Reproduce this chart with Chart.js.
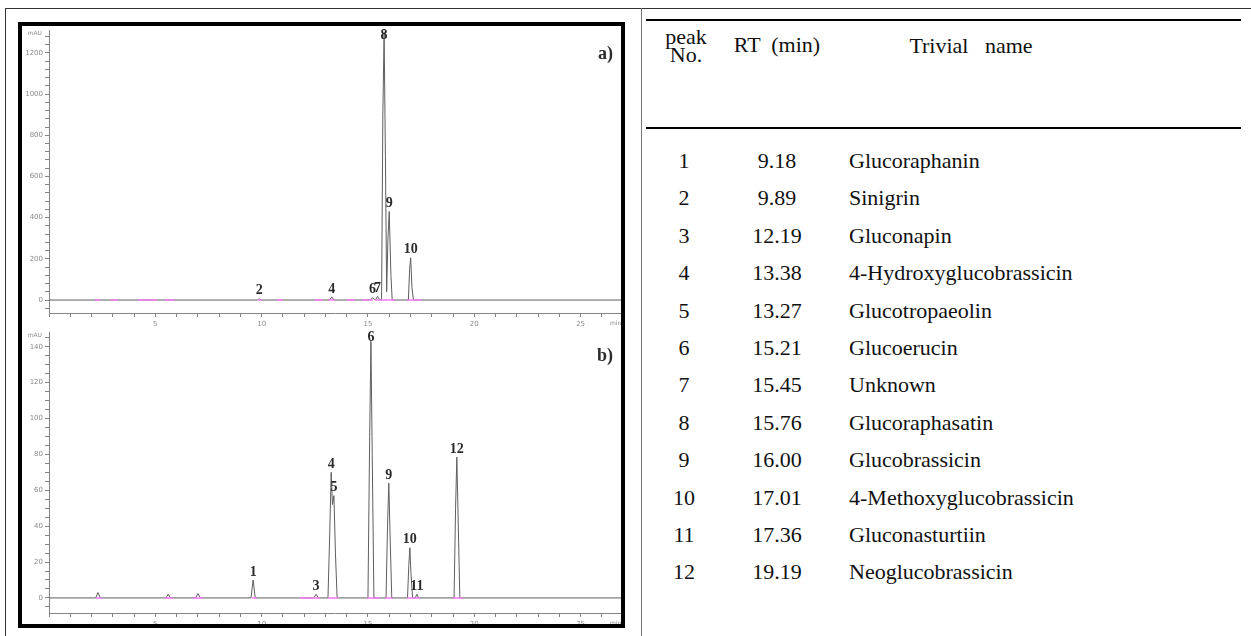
<!DOCTYPE html>
<html>
<head>
<meta charset="utf-8">
<script src="https://cdn.jsdelivr.net/npm/chart.js@4/dist/chart.umd.min.js"></script>
<style>
    html, body { margin: 0; padding: 0; background: #fff; }
    body { width: 1251px; height: 636px; position: relative; overflow: hidden; font-family: "Liberation Serif", "Times New Roman", serif; color: #111; }
    .line { position: absolute; }
    .frame { position: absolute; left: 18px; top: 22px; width: 607px; height: 606px; border: 4px solid #000; box-sizing: border-box; }
    .chart-box { position: absolute; left: 0; width: 599px; }
    .chart-box canvas { filter: blur(0.4px); }
    .cell { position: absolute; font-size: 22px; line-height: 30px; height: 30px; white-space: pre; }
    .cell.center { transform: translateX(-50%); }
</style>
</head>
<body>
<div class="line" style="left:5px; top:8px; width:1246px; height:1px; background:#333;"></div>
<div class="line" style="left:5px; top:8px; width:1px; height:628px; background:#333;"></div>
<div class="line" style="left:641px; top:8px; width:1px; height:628px; background:#777;"></div>

<div class="frame">
    <div class="chart-box" style="top:0; height:304px;"><canvas id="chromA" width="599" height="304"></canvas></div>
    <div class="chart-box" style="top:304px; height:294px;"><canvas id="chromB" width="599" height="294"></canvas></div>
</div>

<div id="peakTable"></div>

<script>
// chromatogram a) - trace points (min, mAU)
const traceATimes = [0, 9.80, 9.89, 9.98, 13.20, 13.30, 13.40, 15.13, 15.21, 15.29, 15.37, 15.45, 15.53, 15.64, 15.70, 15.76, 15.82, 15.88, 15.94, 16.00, 16.08, 16.14, 16.90, 16.96, 17.01, 17.07, 17.14, 26.9];
const traceAValues = [0, 0, 6, 0, 0, 15, 0, 0, 12, 3, 3, 18, 4, 0, 900, 1300, 700, 40, 300, 430, 120, 0, 0, 150, 205, 60, 0, 0];
const peakLabelsA = ['2', '4', '6', '7', '8', '9', '10'];
const peakTimesA = [9.89, 13.30, 15.21, 15.45, 15.76, 16.00, 17.01];
const marksA = [[2.16, 2.40], [2.87, 3.24], [4.18, 5.08], [5.45, 5.92], [9.83, 10.01], [10.72, 11.0], [12.5, 12.88], [13.12, 13.45], [14.01, 14.39], [14.72, 15.23], [15.33, 16.27], [16.83, 17.53]];

// chromatogram b)
const traceBTimes = [0, 2.20, 2.30, 2.42, 5.50, 5.60, 5.72, 6.90, 7.00, 7.12, 9.50, 9.60, 9.70, 12.45, 12.56, 12.67, 13.12, 13.20, 13.27, 13.33, 13.40, 13.47, 13.55, 15.00, 15.08, 15.14, 15.20, 15.28, 15.85, 15.92, 15.98, 16.04, 16.12, 16.86, 16.92, 16.97, 17.02, 17.10, 17.22, 17.30, 17.38, 19.05, 19.12, 19.18, 19.24, 19.32, 26.9];
const traceBValues = [0, 0, 3, 0, 0, 2, 0, 0, 2.5, 0, 0, 10, 0, 0, 2, 0, 0, 35, 70, 52, 57, 25, 0, 0, 90, 143, 80, 0, 0, 40, 64, 35, 0, 0, 18, 28, 14, 0, 0, 2, 0, 0, 50, 78.5, 45, 0, 0];
const peakLabelsB = ['1', '3', '4', '5', '6', '9', '10', '11', '12'];
const peakTimesB = [9.60, 12.56, 13.27, 13.40, 15.14, 15.98, 16.97, 17.30, 19.18];
const marksB = [[2.2, 2.5], [5.45, 5.83], [6.77, 7.24], [9.54, 9.78], [11.8, 12.74], [13.12, 13.59], [14.95, 15.56], [15.8, 16.17], [16.83, 17.44], [18.99, 19.46]];

// peak table
const peakNumbers = ['1', '2', '3', '4', '5', '6', '7', '8', '9', '10', '11', '12'];
const retentionTimes = ['9.18', '9.89', '12.19', '13.38', '13.27', '15.21', '15.45', '15.76', '16.00', '17.01', '17.36', '19.19'];
const trivialNames = ['Glucoraphanin', 'Sinigrin', 'Gluconapin', '4-Hydroxyglucobrassicin', 'Glucotropaeolin', 'Glucoerucin', 'Unknown', 'Glucoraphasatin', 'Glucobrassicin', '4-Methoxyglucobrassicin', 'Gluconasturtiin', 'Neoglucobrassicin'];

const TIME_MAX = 26.9;

function toPoints(times, values) {
    return times.map(function (t, i) { return { x: t, y: values[i] }; });
}

function markPoints(marks) {
    const points = [];
    marks.forEach(function (m) {
        points.push({ x: m[0], y: 0 }, { x: m[1], y: 0 }, { x: m[1], y: null });
    });
    return points;
}

function fixedScale(width, height) {
    return function (scale) {
        if (width !== null) scale.width = width;
        if (height !== null) scale.height = height;
        scale.paddingTop = 0;
        scale.paddingBottom = 0;
        scale.paddingLeft = 0;
        scale.paddingRight = 0;
    };
}

function annotationPlugin(panel, labels, labelTimes, times, values) {
    return {
        id: 'peakAnnotations',
        afterDatasetsDraw: function (chart) {
            const ctx = chart.ctx;
            const area = chart.chartArea;
            const xs = chart.scales.x;
            const ys = chart.scales.y;
            ctx.save();
            ctx.fillStyle = '#2b2b2b';
            ctx.font = 'bold 14px "Liberation Serif"';
            ctx.textAlign = 'center';
            ctx.textBaseline = 'bottom';
            labels.forEach(function (text, i) {
                const t = labelTimes[i];
                const v = values[times.indexOf(t)];
                const x = xs.getPixelForValue(t);
                const y = Math.max(ys.getPixelForValue(v) - 1, area.top + 12);
                ctx.fillText(text, x, y);
            });

            ctx.font = 'bold 18px "Liberation Serif"';
            ctx.textAlign = 'right';
            ctx.textBaseline = 'middle';
            ctx.fillText(panel, area.right - 8, area.top + 24);

            ctx.fillStyle = '#8a8a8a';
            ctx.font = '6px "DejaVu Sans"';
            ctx.textAlign = 'right';
            ctx.fillText('mAU', area.left - 7, area.top + 3);
            ctx.textAlign = 'left';
            ctx.fillText('min', area.right - 11, area.bottom + 10);
            ctx.restore();
        }
    };
}

function drawChromatogram(canvasId, cfg) {
    const axisColor = '#858585';
    const tickFont = { family: 'DejaVu Sans', size: 7 };
    return new Chart(document.getElementById(canvasId), {
        type: 'line',
        data: {
            datasets: [
                {
                    data: markPoints(cfg.marks),
                    borderColor: '#f27af2',
                    borderWidth: 1.5,
                    pointRadius: 0,
                    spanGaps: false
                },
                {
                    data: toPoints(cfg.times, cfg.values),
                    borderColor: '#5e5e5e',
                    borderWidth: 1,
                    pointRadius: 0,
                    tension: 0
                }
            ]
        },
        options: {
            responsive: false,
            animation: false,
            events: [],
            layout: { padding: { left: 0, right: 0, top: cfg.top, bottom: 0 } },
            plugins: { legend: { display: false }, tooltip: { enabled: false } },
            scales: {
                x: {
                    type: 'linear',
                    min: 0,
                    max: TIME_MAX,
                    afterFit: fixedScale(null, cfg.xAxisHeight),
                    border: { display: true, color: axisColor, width: 1 },
                    grid: { drawOnChartArea: false, drawTicks: true, tickLength: 4, color: axisColor },
                    ticks: {
                        stepSize: 1,
                        includeBounds: false,
                        autoSkip: false,
                        maxRotation: 0,
                        padding: 3,
                        color: '#8a8a8a',
                        font: tickFont,
                        callback: function (v) { return v > 0 && v % 5 === 0 ? String(v) : ''; }
                    }
                },
                y: {
                    type: 'linear',
                    min: cfg.yMin,
                    max: cfg.yMax,
                    afterFit: fixedScale(27, null),
                    border: { display: true, color: axisColor, width: 1 },
                    grid: { drawOnChartArea: false, drawTicks: true, tickLength: 4, color: axisColor },
                    ticks: {
                        stepSize: cfg.yMinor,
                        includeBounds: false,
                        autoSkip: false,
                        padding: 2,
                        color: '#8a8a8a',
                        font: tickFont,
                        callback: function (v) { return v >= 0 && v % cfg.yMajor === 0 ? String(v) : ''; }
                    }
                }
            }
        },
        plugins: [annotationPlugin(cfg.panel, cfg.labels, cfg.labelTimes, cfg.times, cfg.values)]
    });
}

drawChromatogram('chromA', {
    panel: 'a)', times: traceATimes, values: traceAValues, labels: peakLabelsA, labelTimes: peakTimesA, marks: marksA,
    yMin: -63, yMax: 1311, yMinor: 40, yMajor: 200, top: 4, xAxisHeight: 17
});

drawChromatogram('chromB', {
    panel: 'b)', times: traceBTimes, values: traceBValues, labels: peakLabelsB, labelTimes: peakTimesB, marks: marksB,
    yMin: -8.4, yMax: 148.2, yMinor: 5, yMajor: 20, top: 2, xAxisHeight: 11
});

// table of identified peaks
(function buildTable() {
    const host = document.getElementById('peakTable');
    function cell(text, x, y, centered) {
        const el = document.createElement('div');
        el.className = 'cell' + (centered ? ' center' : '');
        el.style.left = x + 'px';
        el.style.top = (y - 15) + 'px';
        el.textContent = text;
        host.appendChild(el);
        return el;
    }
    function rule(y, h) {
        const el = document.createElement('div');
        el.className = 'line';
        el.style.cssText = 'left:646px; width:595px; top:' + y + 'px; height:' + h + 'px; background:#000;';
        host.appendChild(el);
    }
    rule(19, 2);
    rule(127, 1.5);

    cell('peak', 686, 37, true);
    cell('No.', 686, 55, true);
    cell('RT  (min)', 777, 45, true);
    cell('Trivial   name', 971, 46, true);

    peakNumbers.forEach(function (n, i) {
        const y = 161 + i * 37.4;
        cell(n, 684, y, true);
        cell(retentionTimes[i], 777, y, true);
        cell(trivialNames[i], 849, y, false);
    });
})();
</script>
</body>
</html>
